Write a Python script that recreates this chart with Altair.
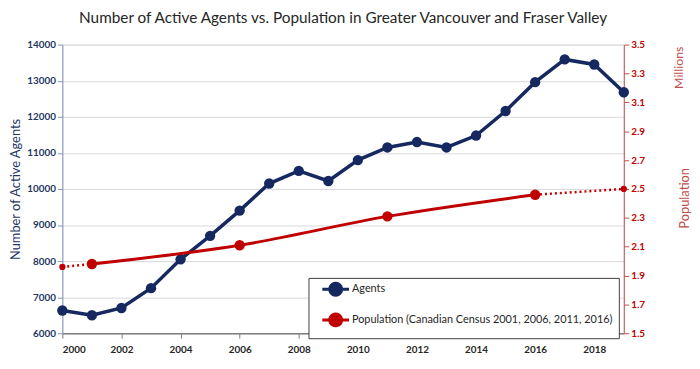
import math
import altair as alt
import pandas as pd

# ---- data ----
agent_years = list(range(2000, 2020))
agents = [6630, 6500, 6700, 7250, 8050, 8700, 9400, 10150, 10500, 10220,
          10800, 11150, 11300, 11150, 11480, 12160, 12960, 13590, 13450, 12680]

census_years = [2001, 2006, 2011, 2016]
census_pop = [1.98, 2.11, 2.31, 2.46]

ext_start_years = [2000, 2001]
ext_start_pop = [1.96, 1.98]
ext_end_years = [2016, 2019]
ext_end_pop = [2.46, 2.50]

series_names = ["Agents", "Population (Canadian Census 2001, 2006, 2011, 2016)"]
series_colors = ["#15285f", "#c00000"]

x_ticks = list(range(2000, 2019, 2))
left_ticks = list(range(6000, 14001, 1000))
right_ticks = [1.5, 1.7, 1.9, 2.1, 2.3, 2.5, 2.7, 2.9, 3.1, 3.3, 3.5]

df_agents = pd.DataFrame({"year": agent_years, "value": agents, "series": series_names[0]})
df_pop = pd.DataFrame({"year": census_years, "value": census_pop, "series": series_names[1]})
df_ext = pd.concat([
    pd.DataFrame({"year": ext_start_years, "value": ext_start_pop, "seg": "start"}),
    pd.DataFrame({"year": ext_end_years, "value": ext_end_pop, "seg": "end"}),
])
df_ext_pts = pd.DataFrame({"year": [ext_start_years[0], ext_end_years[-1]],
                           "value": [ext_start_pop[0], ext_end_pop[-1]]})

W, H = 568, 292
FONT = "Lato"

# legend glyph: short line with a filled circle (polygonal circle keeps bounds tight)
_n = 24
_circle = "".join(
    ("M" if i == 0 else "L") + f"{2 * math.cos(2 * math.pi * i / _n):.3f},{2 * math.sin(2 * math.pi * i / _n):.3f}"
    for i in range(_n)) + "Z"
legend_glyph = "M-4.5,0L4.5,0" + _circle

x = alt.X("year:Q", scale=alt.Scale(domain=[2000, 2019], nice=False, zero=False),
          axis=alt.Axis(values=x_ticks, format="d", title=None, grid=False,
                        labelFont=FONT, labelFontSize=10, labelFontWeight="bold",
                        labelColor="#262626", domainColor="#7f7f7f", tickColor="#7f7f7f",
                        tickSize=5, labelPadding=6, domainWidth=1.5))

color = alt.Color("series:N",
                  scale=alt.Scale(domain=series_names, range=series_colors),
                  legend=alt.Legend(
                      title=None, orient="none", legendX=249, legendY=236,
                      direction="vertical", columns=1,
                      symbolType=legend_glyph,
                      symbolSize=36, symbolStrokeWidth=3, symbolOpacity=1,
                      labelFont=FONT, labelFontSize=11, labelColor="#262626",
                      labelLimit=400, rowPadding=6, padding=6,
                      strokeColor="#404040", fillColor="white",
                      symbolOffset=16, labelOffset=11))

y_left = alt.Y("value:Q", scale=alt.Scale(domain=[6000, 14000], nice=False, zero=False),
               axis=alt.Axis(values=left_ticks, format="d", title="Number of Active Agents",
                             orient="left", grid=True, gridColor="#d9d9d9",
                             labelFont=FONT, labelFontSize=10, labelFontWeight="bold",
                             labelColor="#1f3864", titleFont=FONT, titleFontSize=13,
                             titleFontWeight="normal", titleColor="#1f3864",
                             titleX=-47, titleY=H / 2, titleAngle=270,
                             titleAlign="center", titleBaseline="middle",
                             domainColor="#8497b0", tickColor="#8497b0", tickSize=5))

agents_line = alt.Chart(df_agents).mark_line(strokeWidth=3.5).encode(x=x, y=y_left, color=color)
agents_pts = alt.Chart(df_agents).mark_circle(size=110, opacity=1).encode(x=x, y=y_left, color=color)
left_layer = alt.layer(agents_line, agents_pts)

y_right = alt.Y("value:Q", scale=alt.Scale(domain=[1.5, 3.5], nice=False, zero=False),
                axis=alt.Axis(values=right_ticks, format=".1f", title="Population", orient="right",
                              grid=False, labelFont=FONT, labelFontSize=10, labelFontWeight="bold",
                              labelColor="#c00000", titleFont=FONT, titleFontSize=13,
                              titleFontWeight="normal", titleColor="#c0504d", titleAngle=270,
                              titleX=61, titleY=155, titleAlign="center", titleBaseline="middle",
                              domainColor="#c0504d", tickColor="#c0504d", tickSize=5))

pop_line = alt.Chart(df_pop).mark_line(strokeWidth=3, interpolate="monotone").encode(
    x=x, y=y_right, color=color)
pop_pts = alt.Chart(df_pop).mark_circle(size=110, opacity=1).encode(x=x, y=y_right, color=color)
ext_line = alt.Chart(df_ext).mark_line(strokeWidth=2.5, strokeDash=[2, 3], color="#c00000").encode(
    x=x, y=y_right, detail="seg:N")
ext_pts = alt.Chart(df_ext_pts).mark_circle(size=40, opacity=1, color="#c00000").encode(x=x, y=y_right)
millions = alt.Chart(df_ext_pts.head(1)).mark_text(
    text="Millions", angle=270, font=FONT, fontSize=12.5, color="#c0504d",
    align="right", baseline="middle").encode(x=alt.value(W + 56), y=alt.value(2))
right_layer = alt.layer(ext_line, pop_line, pop_pts, ext_pts, millions)

chart = alt.layer(left_layer, right_layer).resolve_scale(y="independent").properties(
    width=W, height=H,
    title=alt.TitleParams("Number of Active Agents vs. Population in Greater Vancouver and Fraser Valley",
                          font=FONT, fontSize=15.5, fontWeight="normal", color="#262626",
                          anchor="middle", offset=13),
    autosize=alt.AutoSizeParams(type="none"),
    padding={"left": 55, "top": 35, "right": 69, "bottom": 26},
).configure_view(stroke=None).configure(background="white")

chart.save("out.html", embed_options={"renderer": "svg", "actions": False})
